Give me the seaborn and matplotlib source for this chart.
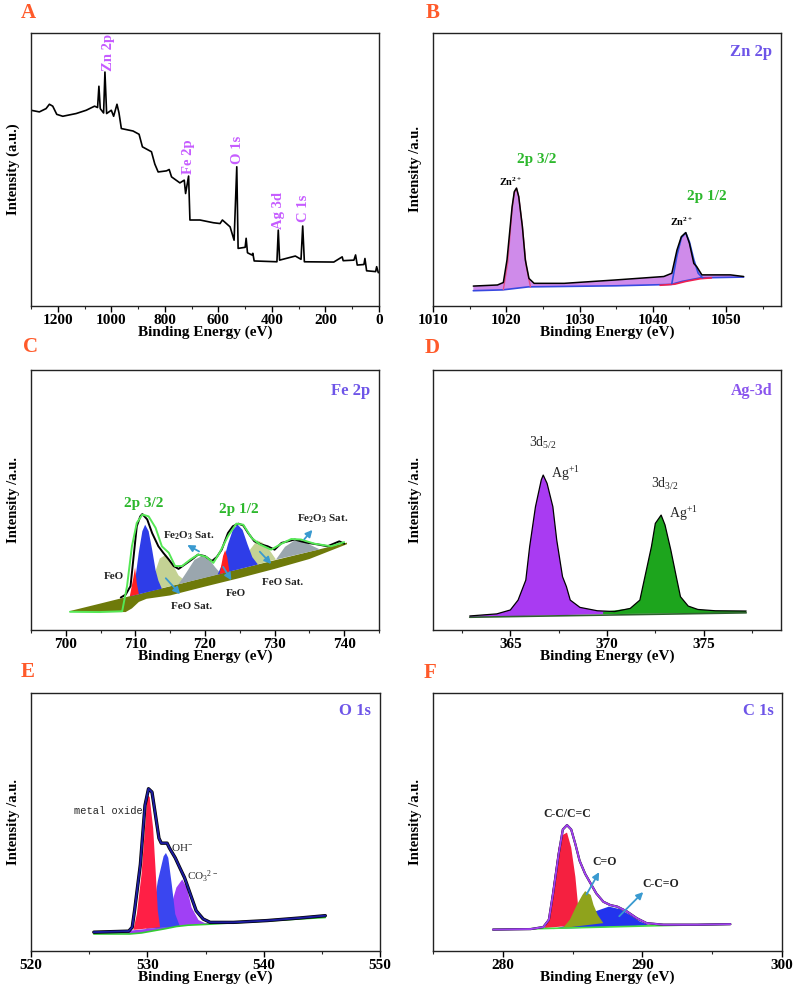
import numpy as np
import pandas as pd
import seaborn as sns
import matplotlib.pyplot as plt
from matplotlib.ticker import MultipleLocator

sns.set_theme(style="ticks")
plt.rcParams['font.family'] = ['Liberation Serif', 'DejaVu Serif']
plt.rcParams['font.weight'] = 'bold'
plt.rcParams['mathtext.default'] = 'regular'

# ---------------- A: survey spectrum ----------------
a_energy = [1300, 1268.8, 1243.8, 1231.3, 1218.8, 1203.8, 1181.3, 1131.3, 1093.8, 1062.5,
            1051.3, 1046.3, 1041.3, 1028.8, 1023.8, 1017.5, 1000, 991.3, 978.8, 971.3,
            962.5, 918.8, 896.3, 883.8, 850, 837.5, 825, 793.8, 783.8, 775,
            743.8, 727.5, 722.5, 711.3, 706.3, 668.8, 618.8, 593.8, 585, 556.3,
            541.3, 531.3, 526.3, 500, 496.3, 491.3, 475, 471.3, 466.3, 381.3,
            376.3, 371.3, 312.5, 291.3, 285, 278.8, 168.8, 137.5, 133.8, 93.8,
            87.5, 81.3, 56.3, 52.5, 46.3, 12.5, 8.8, 2.5]
a_intensity = [71.7, 71.1, 72.3, 73.9, 73.2, 70.2, 69.5, 70.5, 71.7, 73.2,
               72.7, 80.5, 72.3, 70.7, 85.7, 70.5, 71.7, 69.5, 73.9, 70.7,
               65.0, 64.1, 62.9, 58.3, 56.5, 52.0, 49.1, 49.5, 50.0, 47.3,
               45.1, 46.1, 41.2, 47.6, 31.5, 31.5, 30.5, 30.2, 31.5, 29.0,
               24.1, 51.0, 21.1, 21.5, 24.8, 19.5, 18.7, 19.3, 16.5, 16.2,
               27.8, 16.8, 18.3, 17.1, 29.3, 16.2, 16.1, 18.0, 16.6, 16.8,
               18.7, 15.0, 15.2, 17.4, 12.9, 12.6, 14.4, 12.2]
a_labels = ['Zn 2p', 'Fe 2p', 'O 1s', 'Ag 3d', 'C 1s']
a_label_energy = [1012, 712, 529, 375, 281]
a_label_intensity = [92.7, 54.6, 57.3, 35.1, 35.7]

# ---------------- B: Zn 2p ----------------
b_energy = [1015.5, 1018.8, 1019.6, 1020.1, 1020.8, 1021.1, 1021.4, 1021.7, 1022.2, 1022.6,
            1023.1, 1023.8, 1027.9, 1034.7, 1041.5, 1042.6, 1043.3, 1043.9, 1044.5, 1045.0,
            1045.6, 1046.0, 1046.7, 1050.6, 1052.4]
b_intensity = [7.3, 7.7, 8.6, 16.9, 36.4, 41.9, 43.2, 40.1, 29.1, 16.9,
               10.1, 8.3, 8.3, 9.5, 10.8, 12.0, 20.5, 25.4, 26.9, 23.0,
               15.6, 14.4, 11.4, 11.4, 10.8]
b_base_energy = [1015.5, 1019.5, 1023.0, 1035.0, 1042.5, 1044.0, 1046.5, 1052.4]
b_base_intensity = [5.6, 5.9, 7.0, 7.4, 7.9, 9.0, 10.3, 10.6]
b_p1_energy = [1019.6, 1020.2, 1020.8, 1021.1, 1021.4, 1021.7, 1022.2, 1022.7, 1023.3]
b_p1_intensity = [6.0, 16.0, 35.5, 41.5, 43.0, 40.0, 29.0, 15.0, 7.0]
b_p2_energy = [1042.6, 1043.3, 1043.9, 1044.5, 1045.0, 1045.6, 1046.2, 1046.8]
b_p2_intensity = [8.2, 18.5, 25.0, 26.8, 23.5, 17.0, 12.0, 10.3]
b_red_energy = [1041.0, 1043.0, 1044.5, 1046.5, 1048.0]
b_red_intensity = [7.6, 8.0, 9.0, 10.0, 10.3]

# ---------------- C: Fe 2p ----------------
c_energy = [707.9, 708.6, 709.3, 709.8, 710.2, 710.7, 711.0, 711.7, 712.4, 713.3,
            714.0, 714.8, 715.5, 716.2, 717.1, 718.1, 719.0, 720.0, 721.0, 721.7,
            722.4, 723.3, 724.0, 724.8, 725.5, 726.2, 727.1, 728.1, 729.0, 730.0,
            731.0, 731.9, 732.9, 733.8, 734.8, 736.2, 737.6, 739.3, 740.0]
c_intensity = [12.5, 13.6, 16.9, 29.7, 39.9, 43.7, 44.6, 42.5, 37.3, 32.2,
               29.7, 27.1, 24.6, 23.5, 25.2, 27.1, 29.0, 28.4, 26.5, 28.1,
               30.9, 37.3, 39.9, 40.9, 40.2, 37.3, 34.1, 32.9, 32.2, 30.9,
               33.5, 34.1, 34.8, 34.1, 33.5, 32.9, 32.2, 34.1, 33.2]
c_fit_energy = [700.6, 704.8, 708.1, 708.8, 709.5, 710.2, 711.0, 711.9, 712.9, 713.8,
                714.8, 715.7, 716.7, 717.9, 719.0, 720.2, 721.2, 722.1, 723.3, 724.5,
                725.5, 726.7, 727.9, 729.5, 731.0, 732.4, 733.8, 735.7, 738.1, 740.0]
c_fit_intensity = [7.0, 6.9, 7.2, 16.9, 32.2, 41.2, 44.4, 43.7, 39.3, 32.2,
                   29.7, 24.6, 24.6, 27.1, 29.0, 28.1, 25.8, 29.7, 36.1, 40.9,
                   40.5, 35.4, 32.9, 30.9, 33.2, 35.0, 34.8, 33.2, 32.2, 33.8]
c_bg_energy = [700.6, 705, 708.6, 709.5, 710.5, 711.6, 715, 720, 725, 730, 735, 740.4]
c_bg_top = [7.3, 10.2, 12.6, 13.2, 13.8, 14.6, 16.8, 20.2, 23.5, 26.8, 30.1, 33.6]
c_bg_bottom = [7.0, 6.9, 6.9, 8.3, 10.8, 12.0, 13.3, 16.7, 20.0, 23.5, 27.3, 33.0]
c_blue1_energy = [709.3, 710.0, 710.5, 711.0, 711.4, 711.9, 712.4, 712.9, 713.3, 713.8]
c_blue1_intensity = [13.0, 20.0, 30.0, 38.0, 40.5, 38.0, 31.0, 23.0, 19.0, 15.9]
c_red1_energy = [709.2, 709.7, 709.95, 710.2, 710.5]
c_red1_intensity = [13.0, 20.0, 24.0, 18.0, 13.8]
c_sat1_energy = [711.8, 712.8, 713.5, 714.4, 715.2, 716.2, 717.4]
c_sat1_intensity = [14.8, 22.0, 27.5, 29.0, 26.0, 21.0, 18.4]
c_gray1_energy = [716.2, 717.3, 718.5, 719.5, 720.5, 721.5, 722.3]
c_gray1_intensity = [17.6, 22.0, 27.0, 28.4, 27.5, 24.0, 21.6]
c_red2_energy = [722.1, 722.6, 722.9, 723.2, 723.5]
c_red2_intensity = [21.5, 28.5, 30.7, 28.0, 22.5]
c_blue2_energy = [721.8, 722.6, 723.3, 724.0, 724.7, 725.4, 726.1, 726.8, 727.6]
c_blue2_intensity = [21.3, 26.0, 33.0, 38.5, 40.5, 38.5, 33.0, 28.0, 25.2]
c_sat2_energy = [725.5, 726.5, 727.5, 728.3, 729.2, 730.2]
c_sat2_intensity = [23.8, 31.0, 34.5, 33.5, 31.0, 27.1]
c_gray2_energy = [730.2, 731.5, 732.8, 734.0, 735.3, 736.5]
c_gray2_intensity = [27.1, 32.0, 34.3, 34.3, 32.5, 31.0]

# ---------------- D: Ag 3d ----------------
d_energy = [362.9, 364.3, 365.0, 365.4, 365.8, 366.0, 366.3, 366.6, 366.7, 366.9,
            367.2, 367.4, 367.7, 367.9, 368.1, 368.6, 369.5, 370.4, 371.2, 371.7,
            372.0, 372.3, 372.5, 372.8, 373.0, 373.3, 373.6, 373.8, 374.2, 374.7,
            375.6, 377.2]
d_intensity = [5.4, 6.2, 7.7, 11.5, 19.2, 32.1, 47.4, 57.7, 59.6, 56.4,
               47.4, 34.6, 20.5, 16.7, 11.5, 8.7, 7.4, 7.1, 8.3, 11.5,
               21.8, 32.1, 41.0, 44.2, 40.4, 30.8, 19.9, 12.8, 9.2, 7.9,
               7.4, 7.3]
d_52_energy = [362.9, 364.3, 365.0, 365.4, 365.8, 366.0, 366.3, 366.6, 366.7, 366.9,
               367.2, 367.4, 367.7, 367.9, 368.1, 368.6, 369.5, 370.4, 370.4, 362.9]
d_52_intensity = [5.4, 6.2, 7.7, 11.5, 19.2, 32.1, 47.4, 57.7, 59.6, 56.4,
                  47.4, 34.6, 20.5, 16.7, 11.5, 8.7, 7.4, 7.1, 6.2, 4.9]
d_32_energy = [369.8, 371.2, 371.7, 372.0, 372.3, 372.5, 372.8, 373.0, 373.3, 373.6,
               373.8, 374.2, 374.7, 375.6, 377.2, 377.2, 369.8]
d_32_intensity = [7.0, 8.3, 11.5, 21.8, 32.1, 41.0, 44.2, 40.4, 30.8, 19.9,
                  12.8, 9.2, 7.9, 7.4, 7.3, 6.6, 6.1]
d_base_energy = [362.9, 377.2]
d_base_intensity = [4.9, 6.6]

# ---------------- E: O 1s ----------------
e_energy = [525.4, 528.4, 528.7, 528.9, 529.4, 529.8, 530.1, 530.4, 530.7, 531.0,
            531.2, 531.7, 531.9, 532.4, 532.8, 533.2, 533.7, 534.2, 534.8, 535.4,
            537.4, 540.3, 543.1, 545.3]
e_intensity = [7.3, 7.7, 9.2, 15.6, 33.5, 56.5, 62.9, 61.6, 52.7, 43.7,
               41.8, 41.8, 39.9, 36.1, 32.2, 28.4, 22.0, 15.6, 12.4, 11.1,
               11.1, 11.8, 12.8, 13.7]
e_base_energy = [525.4, 528.5, 529.5, 530.5, 531.5, 532.5, 533.5, 535.0, 540.0, 545.3]
e_base_intensity = [6.6, 6.6, 7.0, 7.8, 8.6, 9.5, 10.0, 10.3, 11.6, 13.0]
e_band_energy = [525.4, 528.5, 535.0, 540.3, 545.3]
e_band_intensity = [7.5, 7.9, 10.8, 12.0, 13.9]
e_red_energy = [528.8, 529.1, 529.5, 529.8, 530.0, 530.2, 530.5, 530.7, 530.9, 531.1]
e_red_intensity = [8.2, 14.3, 29.7, 47.6, 60.4, 59.7, 47.6, 32.2, 15.6, 9.2]
e_blue_energy = [529.9, 530.5, 530.9, 531.4, 531.6, 531.8, 532.1, 532.4, 532.8]
e_blue_intensity = [8.6, 15.6, 27.1, 36.7, 38.0, 36.1, 25.8, 14.3, 9.5]
e_purple_energy = [530.8, 531.4, 532.0, 532.5, 533.0, 533.4, 533.8, 534.4, 535.1]
e_purple_intensity = [9.0, 11.8, 16.9, 24.6, 27.7, 24.6, 16.9, 12.0, 10.5]

# ---------------- F: C 1s ----------------
f_energy = [279.3, 282.0, 282.9, 283.3, 283.6, 284.0, 284.3, 284.6, 284.9, 285.2,
            285.5, 285.9, 286.3, 286.7, 287.2, 287.7, 288.2, 288.9, 289.6, 290.3,
            291.5, 293.9, 296.3]
f_intensity = [8.3, 8.5, 9.3, 12.1, 22.3, 37.6, 47.1, 48.8, 47.1, 41.4,
               35.0, 29.9, 26.1, 22.3, 19.1, 17.8, 17.2, 15.3, 12.7, 10.8,
               10.2, 10.2, 10.4]
f_base_energy = [279.3, 282.9, 286.7, 291.0, 296.3]
f_base_intensity = [8.3, 8.7, 9.2, 9.8, 10.4]
f_red_energy = [283.0, 283.3, 283.6, 284.0, 284.3, 284.6, 284.9, 285.2, 285.4, 285.7]
f_red_intensity = [8.9, 13.4, 24.8, 40.1, 45.0, 45.9, 40.1, 28.7, 17.2, 10.2]
f_olive_energy = [284.3, 284.8, 285.3, 285.7, 285.9, 286.3, 286.5, 286.8, 287.2]
f_olive_intensity = [8.9, 12.1, 17.8, 21.7, 23.2, 21.7, 17.8, 14.0, 10.8]
f_blue_energy = [283.6, 284.8, 285.8, 286.7, 287.6, 288.4, 289.1, 289.8, 290.5]
f_blue_intensity = [8.5, 10.2, 12.7, 15.5, 17.2, 16.2, 14.0, 11.5, 9.9]

LETTER = '#FF5A2A'
TITLE = '#6E55E8'
GREEN = '#2DB82D'
ARROW = '#3A9AD0'

fig = plt.figure(figsize=(7.94, 9.92), dpi=100)
W, H = 794, 992


def add_axes(l, t, r, b):
    return fig.add_axes([l / W, 1 - b / H, (r - l) / W, (b - t) / H])


def style(ax, xlim, major, minor, ylabel):
    ax.set_xlim(*xlim)
    ax.set_ylim(0, 100)
    ax.set_yticks([])
    ax.xaxis.set_major_locator(MultipleLocator(major))
    ax.xaxis.set_minor_locator(MultipleLocator(minor))
    ax.tick_params(axis='x', which='major', direction='out', length=4.5, width=1,
                   labelsize=11, pad=1.5, colors='black')
    ax.tick_params(axis='x', which='minor', direction='out', length=2.5, width=0.8)
    ax.set_xlabel('Binding Energy (eV)', fontsize=11, fontweight='bold', labelpad=-1, color='black')
    ax.set_ylabel(ylabel, fontsize=10.5, fontweight='bold', labelpad=8, color='black')
    for s in ax.spines.values():
        s.set_color('#222222')
        s.set_linewidth(1.0)


def line(ax, x, y, color, lw):
    sns.lineplot(x=x, y=y, ax=ax, color=color, lw=lw, sort=False, estimator=None, legend=False)


def arrow(ax, tail, head):
    ax.annotate('', xy=head, xytext=tail,
                arrowprops=dict(arrowstyle='-|>', color=ARROW, lw=1.3, mutation_scale=10))


axA = add_axes(31, 33, 379, 306)
axB = add_axes(433, 33, 781, 306)
axC = add_axes(31, 370, 379, 630)
axD = add_axes(433, 370, 781, 630)
axE = add_axes(31, 693, 380, 951)
axF = add_axes(433, 693, 782, 951)

# A
line(axA, a_energy, a_intensity, 'black', 1.2)
for lab, xe, yi in zip(a_labels, a_label_energy, a_label_intensity):
    axA.text(xe, yi, lab, rotation=90, ha='center', va='center', color='#C65CFF',
             fontsize=10.5, fontweight='bold')
style(axA, (1300, 0), 200, 100, 'Intensity (a.u.)')

# B
axB.fill(list(b_energy) + b_base_energy[::-1], list(b_intensity) + b_base_intensity[::-1],
         color='#CF8BEA', lw=0)
line(axB, b_base_energy, b_base_intensity, '#3848E0', 1.2)
line(axB, b_red_energy, b_red_intensity, '#F02050', 1.2)
line(axB, b_p1_energy, b_p1_intensity, '#E0508A', 1.0)
line(axB, b_p2_energy, b_p2_intensity, '#3050E0', 1.2)
line(axB, b_energy, b_intensity, 'black', 1.1)
axB.text(1024.2, 53.5, '2p 3/2', color=GREEN, fontsize=11, ha='center', va='center')
axB.text(1047.4, 40.1, '2p 1/2', color=GREEN, fontsize=11, ha='center', va='center')
axB.text(1020.6, 45.5, 'Zn$^{2+}$', color='black', fontsize=7.5, ha='center', va='center')
axB.text(1044.0, 31.0, 'Zn$^{2+}$', color='black', fontsize=7.5, ha='center', va='center')
axB.text(0.975, 0.93, 'Zn 2p', transform=axB.transAxes, color=TITLE, fontsize=12,
         ha='right', va='center')
style(axB, (1010, 1057.5), 10, 5, 'Intensity /a.u.')

# C
axC.fill(c_bg_energy + c_bg_energy[::-1], c_bg_top + c_bg_bottom[::-1], color='#6E7A0A', lw=0)
axC.fill(c_sat1_energy, c_sat1_intensity, color='#BACB82', alpha=0.85, lw=0)
axC.fill(c_gray1_energy, c_gray1_intensity, color='#9AA6AE', lw=0)
axC.fill(c_sat2_energy, c_sat2_intensity, color='#BACB82', alpha=0.85, lw=0)
axC.fill(c_gray2_energy, c_gray2_intensity, color='#9AA6AE', lw=0)
axC.fill(c_blue1_energy, c_blue1_intensity, color='#2E3DE8', lw=0)
axC.fill(c_blue2_energy, c_blue2_intensity, color='#2E3DE8', lw=0)
axC.fill(c_red1_energy, c_red1_intensity, color='#FF2020', lw=0)
axC.fill(c_red2_energy, c_red2_intensity, color='#FF2020', lw=0)
line(axC, c_energy, c_intensity, 'black', 1.4)
line(axC, c_fit_energy, c_fit_intensity, '#55E855', 1.4)
axC.text(711.2, 48.8, '2p 3/2', color=GREEN, fontsize=11, ha='center', va='center')
axC.text(724.8, 46.3, '2p 1/2', color=GREEN, fontsize=11, ha='center', va='center')
fs = 8
axC.text(717.6, 36.3, 'Fe$_2$O$_3$ Sat.', fontsize=fs, ha='center', va='center', color='#222222')
axC.text(736.9, 42.7, 'Fe$_2$O$_3$ Sat.', fontsize=fs, ha='center', va='center', color='#222222')
axC.text(706.9, 20.5, 'FeO', fontsize=fs, ha='center', va='center', color='#222222')
axC.text(718.1, 9.2, 'FeO Sat.', fontsize=fs, ha='center', va='center', color='#222222')
axC.text(724.5, 14.1, 'FeO', fontsize=fs, ha='center', va='center', color='#222222')
axC.text(731.2, 18.4, 'FeO Sat.', fontsize=fs, ha='center', va='center', color='#222222')
arrow(axC, (719.5, 29.7), (717.1, 33.2))
arrow(axC, (714.1, 20.7), (716.7, 13.0))
arrow(axC, (722.4, 25.2), (724.0, 18.2))
arrow(axC, (727.6, 30.9), (729.8, 24.6))
arrow(axC, (734.0, 34.1), (735.7, 39.3))
axC.text(0.975, 0.92, 'Fe 2p', transform=axC.transAxes, color=TITLE, fontsize=12,
         ha='right', va='center')
style(axC, (695, 745), 10, 5, 'Intensity /a.u.')

# D
axD.fill(d_52_energy, d_52_intensity, color='#A93BF2', lw=0)
axD.fill(d_32_energy, d_32_intensity, color='#1DA51D', lw=0)
line(axD, d_base_energy, d_base_intensity, '#2F5F2F', 1.2)
line(axD, d_energy, d_intensity, 'black', 0.9)
axD.text(366.7, 71.8, '3d$_{5/2}$', fontsize=10, fontweight='normal', ha='center', va='center')
axD.text(367.1, 60.3, 'Ag$^{+1}$', fontsize=10, fontweight='normal', ha='left', va='center')
axD.text(373.0, 56.2, '3d$_{3/2}$', fontsize=10, fontweight='normal', ha='center', va='center')
axD.text(373.2, 44.9, 'Ag$^{+1}$', fontsize=10, fontweight='normal', ha='left', va='center')
axD.text(0.975, 0.92, 'Ag-3d', transform=axD.transAxes, color='#8A55EE', fontsize=11.5,
         ha='right', va='center')
style(axD, (361, 379), 5, 2.5, 'Intensity /a.u.')

# E
axE.fill(e_band_energy + e_base_energy[::-1], e_band_intensity + e_base_intensity[::-1],
         color='#9A3CF0', lw=0)
line(axE, e_base_energy, e_base_intensity, '#33CC33', 1.2)
axE.fill(e_purple_energy, e_purple_intensity, color='#A040F5', lw=0)
axE.fill(e_blue_energy, e_blue_intensity, color='#3A46F0', lw=0)
axE.fill(e_red_energy, e_red_intensity, color='#FF1F45', lw=0)
line(axE, e_energy, e_intensity, 'black', 2.4)
line(axE, e_energy, e_intensity, '#1C1CA0', 1.4)
axE.text(529.6, 54.2, 'metal oxide', fontsize=7.5, fontweight='normal', family='Liberation Mono',
         ha='right', va='center')
axE.text(532.0, 40.2, 'OH$^{-}$', fontsize=8, fontweight='normal', ha='left', va='center')
axE.text(533.4, 28.6, 'CO$_3$$^{2-}$', fontsize=8, fontweight='normal', ha='left', va='center')
axE.text(0.975, 0.93, 'O 1s', transform=axE.transAxes, color=TITLE, fontsize=12,
         ha='right', va='center')
style(axE, (520, 550), 10, 5, 'Intensity /a.u.')

# F
axF.fill(f_blue_energy, f_blue_intensity, color='#2233EE', lw=0)
axF.fill(f_red_energy, f_red_intensity, color='#F52040', lw=0)
axF.fill(f_olive_energy, f_olive_intensity, color='#8FA31C', lw=0)
line(axF, f_base_energy, f_base_intensity, '#44DD44', 1.2)
line(axF, f_energy, f_intensity, 'black', 1.6)
line(axF, f_energy, f_intensity, '#A040F0', 1.4)
axF.text(284.6, 53.1, 'C-C/C=C', fontsize=8.5, ha='center', va='center', color='#222222')
axF.text(287.3, 34.4, 'C=O', fontsize=8.5, ha='center', va='center', color='#222222')
axF.text(291.3, 25.9, 'C-C=O', fontsize=8.5, ha='center', va='center', color='#222222')
arrow(axF, (285.9, 21.0), (287.0, 31.5))
arrow(axF, (288.2, 12.7), (290.2, 23.6))
axF.text(0.975, 0.93, 'C 1s', transform=axF.transAxes, color=TITLE, fontsize=12,
         ha='right', va='center')
style(axF, (275, 300), 10, 5, 'Intensity /a.u.')

# panel letters
for lab, x, y in [('A', 28, 13), ('B', 433, 13), ('C', 30, 347), ('D', 432, 348),
                  ('E', 28, 672), ('F', 430, 673)]:
    fig.text(x / W, 1 - y / H, lab, color=LETTER, fontsize=15, fontweight='bold',
             ha='center', va='center')

fig.savefig('out.png', dpi=100)
